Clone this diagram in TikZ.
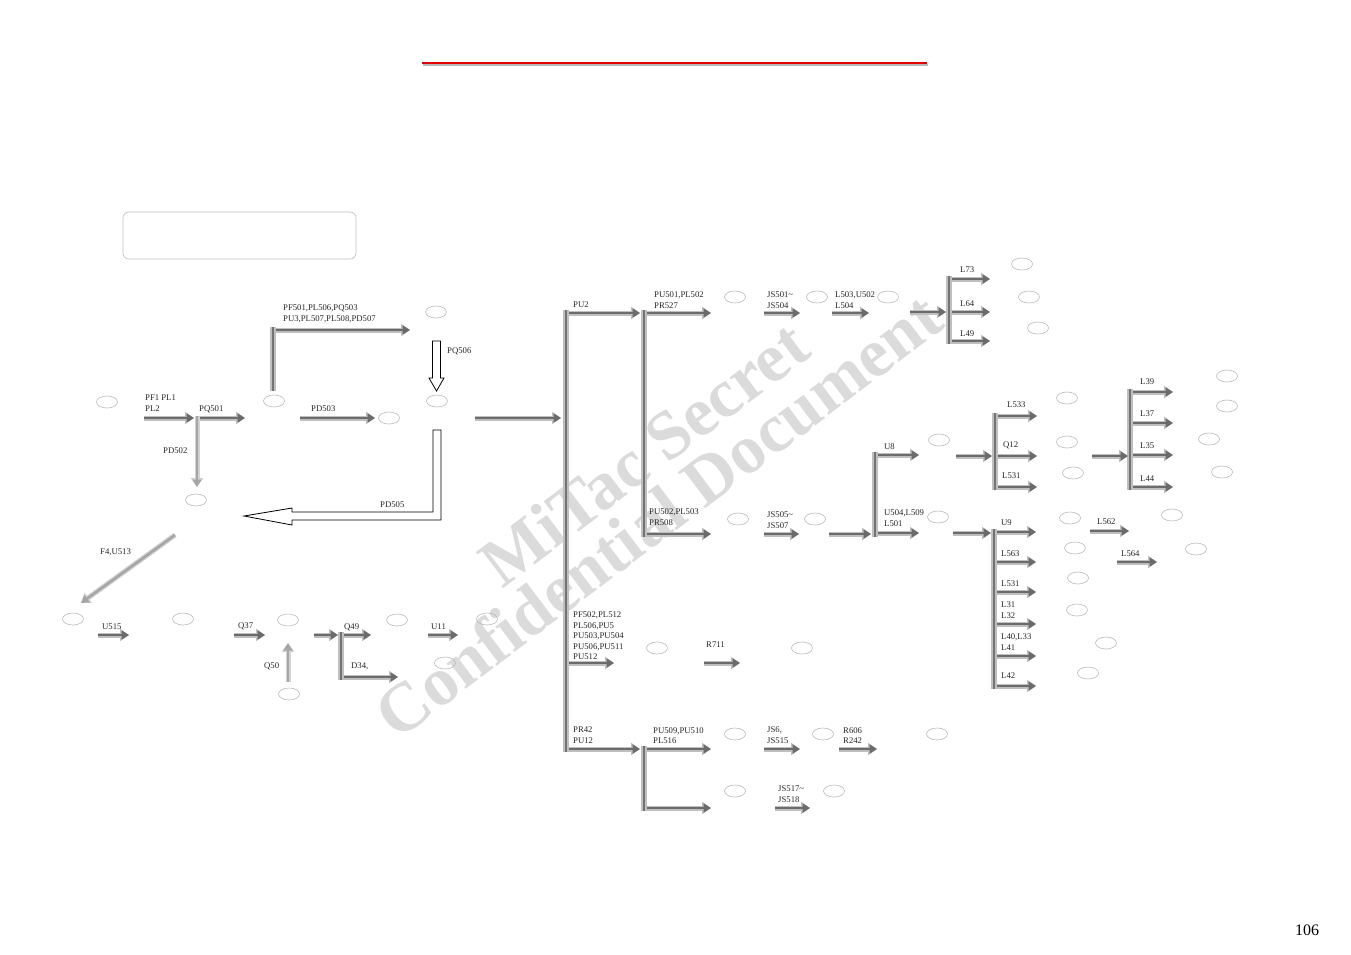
\documentclass[tikz,border=0pt]{standalone}
\usepackage{fontspec}
\setmainfont{Liberation Serif}
\usetikzlibrary{arrows.meta,shapes.geometric}

\tikzset{
 ell/.style={ellipse, draw=gray!55, line width=0.6pt, minimum width=21pt, minimum height=12pt, inner sep=0pt},
 lbl/.style={anchor=north west, inner sep=0pt, font=\fontsize{8.7}{10.4}\selectfont, align=left, text=black!85},
 arrowout/.style={line width=5pt, draw=gray!50, fill=gray!50, -{Triangle[length=9pt,width=12pt]}},
 arrowin/.style={line width=2.6pt, draw=black!58, fill=black!58, -{Triangle[length=7.5pt,width=9pt]}},
 lightout/.style={line width=5pt, draw=gray!35, -{Triangle[length=9pt,width=12pt]}},
 lightin/.style={line width=2.6pt, draw=gray!70, -{Triangle[length=7.5pt,width=9pt]}},
 busout/.style={line width=5.5pt, draw=gray!50},
 busin/.style={line width=2.2pt, draw=black!55},
 hollow/.style={draw=black, line width=0.8pt, fill=white, line join=miter},
 wm/.style={anchor=base, inner sep=0pt, rotate=37, text=black!14, font=\bfseries\fontsize{69}{69}\selectfont},
 pagenum/.style={inner sep=0pt, font=\fontsize{16}{18}\selectfont},
}
\newcommand\GA[3]{\coordinate (#1s) at (#2); \coordinate (#1e) at (#3);
  \draw[arrowout] (#1s) -- (#1e); \draw[arrowin] (#1s) -- (#1e);}
\newcommand\LA[3]{\coordinate (#1s) at (#2); \coordinate (#1e) at (#3);
  \draw[lightout] (#1s) -- (#1e); \draw[lightin] (#1s) -- (#1e);}
\newcommand\BUS[3]{\coordinate (#1t) at (#2); \coordinate (#1b) at (#3);
  \draw[busout] (#1t) -- (#1b); \draw[busin] (#1t) -- (#1b);}
\newcommand\LB[3]{\node[lbl] (#1) at (#2) {#3};}
\newcommand\EL[2]{\node[ell] (#1) at (#2) {};}

\begin{document}
\begin{tikzpicture}[x=1pt,y=-1pt]
\useasboundingbox (0,0) rectangle (1351,954);

% watermark
\node[wm] (wm1) at (658,472) {MiTac Secret};
\node[wm] (wm2) at (672,534) {Confidential Document};

% title rule and empty box
\coordinate (rl) at (422,62.5); \coordinate (rr) at (927,62.5);
\draw[gray!55, line width=2pt] ([shift={(1,2)}]rl) -- ([shift={(1,2)}]rr);
\draw[red!90!black, line width=2pt] (rl) -- (rr);
\node[draw=gray!50, line width=0.6pt, rounded corners=6pt, minimum width=233pt, minimum height=47pt, inner sep=0pt] (box) at (239.5,235.5) {};

% ellipses
\EL{e1}{107,402} \EL{e2}{196,500} \EL{e3}{274,401} \EL{e4}{436,312}
\EL{e5}{437,401} \EL{e6}{389,418} \EL{e7}{73,619} \EL{e8}{183,619}
\EL{e9}{288,620} \EL{e10}{289,694} \EL{e11}{397,620} \EL{e12}{487,619}
\EL{e13}{445,663} \EL{e14}{735,297} \EL{e15}{817,297} \EL{e16}{888,297}
\EL{e17}{1022,264} \EL{e18}{1029,297} \EL{e19}{1038,328} \EL{e20}{738,519}
\EL{e21}{815,519} \EL{e22}{939,440} \EL{e23}{938,517} \EL{e24}{1067,398}
\EL{e25}{1067,442} \EL{e26}{1073,473} \EL{e27}{1227,376} \EL{e28}{1227,406}
\EL{e29}{1209,439} \EL{e30}{1222,472} \EL{e31}{1070,518} \EL{e32}{1075,548}
\EL{e33}{1078,578} \EL{e34}{1077,610} \EL{e35}{1106,643} \EL{e36}{1088,673}
\EL{e37}{1172,515} \EL{e38}{1196,549} \EL{e39}{657,648} \EL{e40}{802,648}
\EL{e41}{735,734} \EL{e42}{735,791} \EL{e43}{823,734} \EL{e44}{937,734}
\EL{e45}{834,791}

% buses
\BUS{b0}{273,327}{273,391}
\BUS{b1}{566,310}{566,752}
\BUS{b2}{644,310}{644,537}
\BUS{b3}{949,276}{949,344}
\BUS{b4}{875,452}{875,537}
\BUS{b5}{995,413}{995,490}
\BUS{b6}{1130,389}{1130,490}
\BUS{b7}{994,529}{994,689}
\BUS{b8}{341,632}{341,680}
\BUS{b9}{644,746}{644,811}

% light gradient arrows
\LA{l1}{197,416}{197,487}
\LA{l2}{175,535}{81,603}
\LA{l3}{288,682}{288,643}

% grey arrows
\GA{a1}{144,418}{194,418}
\GA{a2}{200,418}{245,418}
\GA{a3}{300,418}{375,418}
\GA{a4}{276,330}{410,330}
\GA{a5}{475,418}{561,418}
\GA{a6}{98,635}{129,635}
\GA{a7}{234,635}{265,635}
\GA{a8}{314,635}{338,635}
\GA{a9}{344,635}{371,635}
\GA{a10}{344,677}{398,677}
\GA{a11}{428,635}{458,635}
\GA{a12}{569,313}{640,313}
\GA{a13}{647,313}{711,313}
\GA{a14}{764,313}{800,313}
\GA{a15}{832,313}{869,313}
\GA{a16}{910,312}{946,312}
\GA{a17}{952,279}{990,279}
\GA{a18}{952,312}{990,312}
\GA{a19}{952,341}{990,341}
\GA{a20}{647,534}{711,534}
\GA{a21}{764,534}{799,534}
\GA{a22}{829,534}{871,534}
\GA{a23}{878,455}{919,455}
\GA{a24}{878,533}{919,533}
\GA{a25}{956,456}{992,456}
\GA{a26}{998,416}{1037,416}
\GA{a27}{998,456}{1037,456}
\GA{a28}{998,487}{1037,487}
\GA{a29}{1092,456}{1128,456}
\GA{a30}{1133,392}{1173,392}
\GA{a31}{1133,423}{1173,423}
\GA{a32}{1133,455}{1173,455}
\GA{a33}{1133,487}{1173,487}
\GA{a34}{953,533}{991,533}
\GA{a35}{997,532}{1036,532}
\GA{a36}{997,562}{1036,562}
\GA{a37}{997,592}{1036,592}
\GA{a38}{997,624}{1036,624}
\GA{a39}{997,656}{1036,656}
\GA{a40}{997,686}{1036,686}
\GA{a41}{1090,531}{1129,531}
\GA{a42}{1117,562}{1157,562}
\GA{a43}{569,663}{614,663}
\GA{a44}{704,663}{740,663}
\GA{a45}{569,749}{640,749}
\GA{a46}{647,749}{711,749}
\GA{a47}{647,808}{711,808}
\GA{a48}{764,749}{800,749}
\GA{a49}{839,749}{877,749}
\GA{a50}{775,808}{810,808}

% hollow arrows
\draw[hollow] (432.5,341) -- (440.5,341) -- (440.5,378) -- (444,378) -- (436.5,391)
  -- (429,378) -- (432.5,378) -- cycle;
\draw[hollow] (433,430) -- (441,430) -- (441,520) -- (292,520) -- (292,525) -- (244,516)
  -- (292,508) -- (292,512) -- (433,512) -- cycle;

% labels
\LB{t1}{145,395}{PF1 PL1\\PL2}
\LB{t2}{199,406}{PQ501}
\LB{t3}{311,406}{PD503}
\LB{t4}{163,448}{PD502}
\LB{t5}{283,305}{PF501,PL506,PQ503\\PU3,PL507,PL508,PD507}
\LB{t6}{447,348}{PQ506}
\LB{t7}{380,502}{PD505}
\LB{t8}{100,549}{F4,U513}
\LB{t9}{102,624}{U515}
\LB{t10}{238,623}{Q37}
\LB{t11}{264,663}{Q50}
\LB{t12}{344,624}{Q49}
\LB{t13}{351,663}{D34,}
\LB{t14}{431,624}{U11}
\LB{t15}{573,302}{PU2}
\LB{t16}{654,292}{PU501,PL502\\PR527}
\LB{t17}{767,292}{JS501\textasciitilde\\JS504}
\LB{t18}{835,292}{L503,U502\\L504}
\LB{t19}{960,267}{L73}
\LB{t20}{960,301}{L64}
\LB{t21}{960,331}{L49}
\LB{t22}{649,509}{PU502,PL503\\PR508}
\LB{t23}{767,512}{JS505\textasciitilde\\JS507}
\LB{t24}{884,444}{U8}
\LB{t25}{884,510}{U504,L509\\L501}
\LB{t26}{1007,402}{L533}
\LB{t27}{1003,442}{Q12}
\LB{t28}{1002,473}{L531}
\LB{t29}{1140,379}{L39}
\LB{t30}{1140,411}{L37}
\LB{t31}{1140,443}{L35}
\LB{t32}{1140,476}{L44}
\LB{t33}{1001,520}{U9}
\LB{t34}{1001,551}{L563}
\LB{t35}{1001,581}{L531}
\LB{t36}{1001,602}{L31\\L32}
\LB{t37}{1001,634}{L40,L33\\L41}
\LB{t38}{1001,673}{L42}
\LB{t39}{1097,519}{L562}
\LB{t40}{1121,551}{L564}
\LB{t41}{573,612}{PF502,PL512\\PL506,PU5\\PU503,PU504\\PU506,PU511\\PU512}
\LB{t42}{706,642}{R711}
\LB{t43}{573,727}{PR42\\PU12}
\LB{t44}{653,727}{PU509,PU510\\PL516}
\LB{t45}{767,727}{JS6,\\JS515}
\LB{t46}{843,727}{R606\\R242}
\LB{t47}{778,786}{JS517\textasciitilde\\JS518}

\node[pagenum] (pn) at (1307,930) {106};
\end{tikzpicture}
\end{document}
